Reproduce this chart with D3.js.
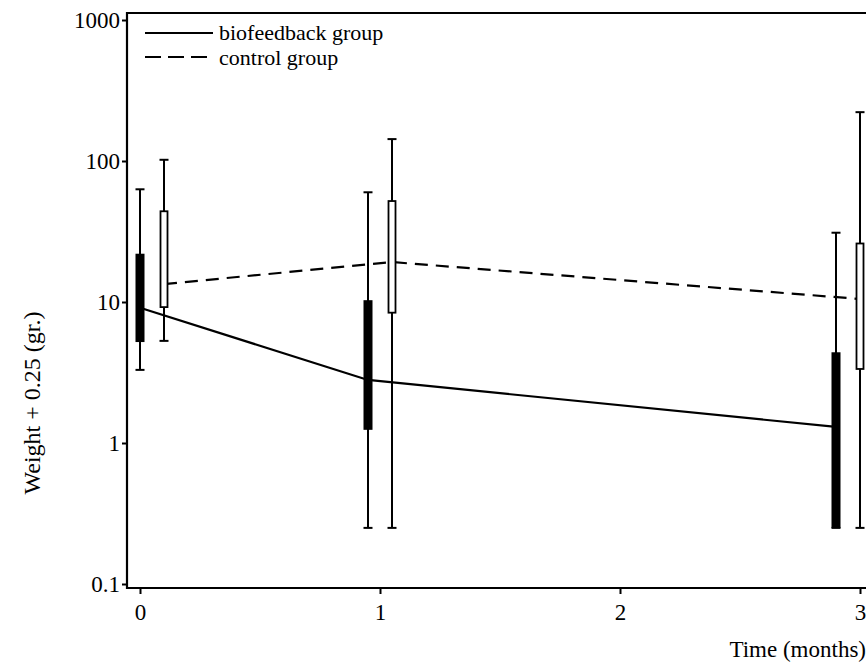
<!DOCTYPE html>
<meta charset="utf-8">
<style>
body { margin: 0; background: #fff; }
text { font-family: "Liberation Serif", "Times New Roman", serif; fill: #000; }
</style>
<svg width="866" height="664"></svg>
<script src="https://d3js.org/d3.v7.min.js"></script>
<script>

// time points (months) and where each group's box sits
var months = [0, 1, 2, 3];
var bioPos = [0, 0.95, 2.9];
var ctrlPos = [0.1, 1.05, 3.0];
var yTicks = [0.1, 1, 10, 100, 1000];

// biofeedback group (weight + 0.25, gr.)
var bioHigh = [63, 60, 31];
var bioQ3 = [22, 10.3, 4.4];
var bioMed = [9.1, 2.8, 1.3];
var bioQ1 = [5.2, 1.24, 0.25];
var bioLow = [3.3, 0.25, 0.25];

// control group
var ctrlHigh = [102, 143, 222];
var ctrlQ3 = [44, 52, 26];
var ctrlMed = [13.4, 19.2, 10.5];
var ctrlQ1 = [9.2, 8.4, 3.35];
var ctrlLow = [5.3, 0.25, 0.25];

var svg = d3.select("svg");
var mLeft = 127, mTop = 13, mBottom = 588, mRight = 866;
var fs = "23px";

var x = d3.scaleLinear().domain([0, 3]).range([140, 860]);
var y = d3.scaleLog().domain([0.1, 1000]).range([584, 20]);

// frame (top, left, bottom)
svg.append("path")
    .attr("d", "M" + mRight + "," + mTop + "H" + mLeft + "V" + mBottom + "H" + mRight)
    .attr("fill", "none").attr("stroke", "#000").attr("stroke-width", 2.2);

var yAxis = svg.append("g")
    .attr("transform", "translate(" + mLeft + ",0)")
    .call(d3.axisLeft(y).tickValues(yTicks).tickSize(5).tickPadding(2)
        .tickFormat(function(d) { return d < 1 ? "0.1" : String(d); }));
yAxis.select(".domain").remove();
yAxis.selectAll("line").attr("stroke-width", 2);
yAxis.selectAll("text").style("font-size", fs).attr("font-family", null);

var xAxis = svg.append("g")
    .attr("transform", "translate(0," + mBottom + ")")
    .call(d3.axisBottom(x).tickValues(months).tickSize(6).tickPadding(10)
        .tickFormat(d3.format("d")));
xAxis.select(".domain").remove();
xAxis.selectAll("line").attr("stroke-width", 2);
xAxis.selectAll("text").style("font-size", fs).attr("font-family", null);

svg.append("text")
    .attr("x", 866).attr("y", 657)
    .attr("text-anchor", "end")
    .style("font-size", fs)
    .text("Time (months)");

svg.append("text")
    .attr("transform", "translate(40,403) rotate(-90)")
    .attr("text-anchor", "middle")
    .style("font-size", "24px")
    .text("Weight + 0.25 (gr.)");

// median lines
var line = d3.line()
    .x(function(d) { return x(d[0]); })
    .y(function(d) { return y(d[1]); });

svg.append("path")
    .datum(d3.zip(bioPos, bioMed))
    .attr("d", line)
    .attr("fill", "none").attr("stroke", "#000").attr("stroke-width", 2.2);

svg.append("path")
    .datum(d3.zip(ctrlPos, ctrlMed))
    .attr("d", line)
    .attr("fill", "none").attr("stroke", "#000").attr("stroke-width", 2.2)
    .attr("stroke-dasharray", "13,8");

// box plots
function boxes(pos, low, q1, q3, high, filled) {
  var g = svg.append("g");
  var data = pos.map(function(p, i) {
    return { x: p, low: low[i], q1: q1[i], q3: q3[i], high: high[i] };
  });
  var b = g.selectAll("g").data(data).enter().append("g");
  b.append("line")
      .attr("x1", function(d) { return x(d.x); })
      .attr("x2", function(d) { return x(d.x); })
      .attr("y1", function(d) { return y(d.low); })
      .attr("y2", function(d) { return y(d.high); })
      .attr("stroke", "#000").attr("stroke-width", 2);
  ["low", "high"].forEach(function(k) {
    b.append("line")
        .attr("x1", function(d) { return x(d.x) - 4.5; })
        .attr("x2", function(d) { return x(d.x) + 4.5; })
        .attr("y1", function(d) { return y(d[k]); })
        .attr("y2", function(d) { return y(d[k]); })
        .attr("stroke", "#000").attr("stroke-width", 2);
  });
  b.append("rect")
      .attr("x", function(d) { return x(d.x) - (filled ? 4.5 : 3.5); })
      .attr("width", filled ? 9 : 7)
      .attr("y", function(d) { return y(d.q3); })
      .attr("height", function(d) { return y(d.q1) - y(d.q3); })
      .attr("fill", filled ? "#000" : "#fff")
      .attr("stroke", "#000").attr("stroke-width", filled ? 0 : 1.8);
}
boxes(bioPos, bioLow, bioQ1, bioQ3, bioHigh, true);
boxes(ctrlPos, ctrlLow, ctrlQ1, ctrlQ3, ctrlHigh, false);

// legend
var legend = svg.append("g");
legend.append("line").attr("x1", 145).attr("x2", 213).attr("y1", 33).attr("y2", 33)
    .attr("stroke", "#000").attr("stroke-width", 2.2);
legend.append("line").attr("x1", 145).attr("x2", 213).attr("y1", 57).attr("y2", 57)
    .attr("stroke", "#000").attr("stroke-width", 2.2).attr("stroke-dasharray", "16,7");
legend.append("text").attr("x", 219).attr("y", 40).style("font-size", "22px").text("biofeedback group");
legend.append("text").attr("x", 219).attr("y", 65).style("font-size", "22px").text("control group");

</script>
